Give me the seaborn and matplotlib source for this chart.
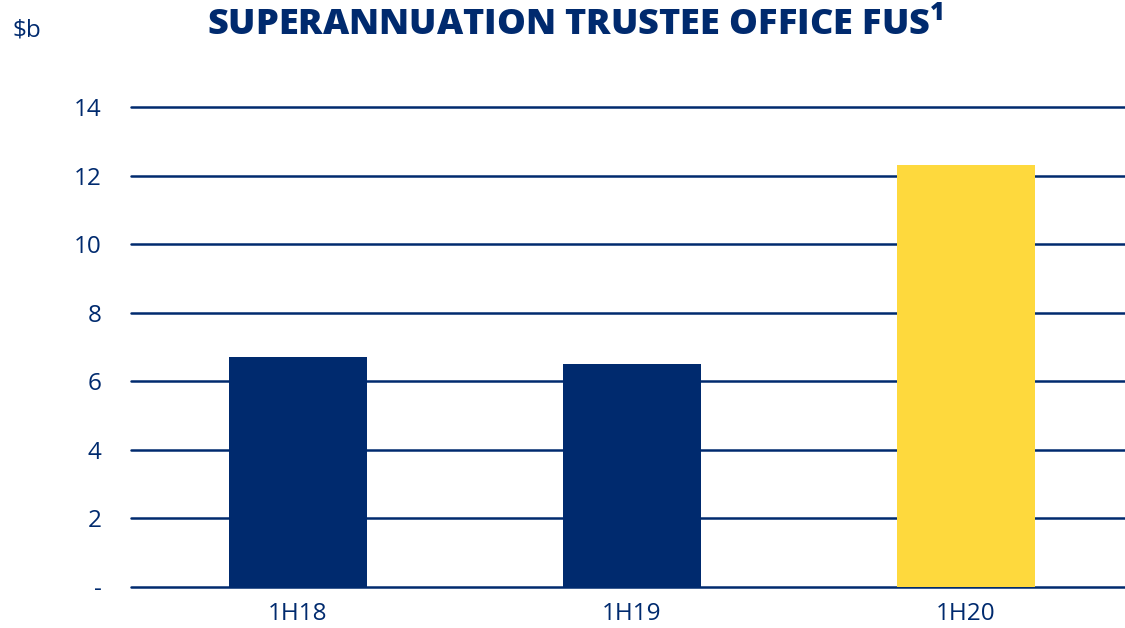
import matplotlib
matplotlib.use("Agg")
import matplotlib.pyplot as plt
import seaborn as sns
import pandas as pd

categories = ["1H18", "1H19", "1H20"]
values = [6.71, 6.50, 12.31]
bar_colors = ["#002A6E", "#002A6E", "#FED93D"]
yticks = [0, 2, 4, 6, 8, 10, 12, 14]
ytick_labels = ["-", "2", "4", "6", "8", "10", "12", "14"]

NAVY = "#002A6E"

sns.set_theme(style="white")
plt.rcParams["font.family"] = ["Open Sans", "DejaVu Sans"]

df = pd.DataFrame({"period": categories, "fus": values})

fig = plt.figure(figsize=(11.25, 6.28), dpi=100)
ax = fig.add_axes([131/1125, 1-587/628, 1-131/1125, (587-96.7)/628])

sns.barplot(data=df, x="period", y="fus", hue="period", palette=bar_colors,
            width=0.416, saturation=1, legend=False, ax=ax, zorder=3,
            linewidth=0)

ax.set_ylim(0, 14.3)
ax.set_xlim(-0.5, 2.476)
ax.set_yticks(yticks)
ax.set_yticklabels(ytick_labels)
for y in yticks:
    ax.axhline(y, color=NAVY, lw=1.8, zorder=1, clip_on=False)
ax.set_axisbelow(True)
for s in ax.spines.values():
    s.set_visible(False)
ax.tick_params(axis="both", length=0, colors=NAVY, labelsize=17.5)
ax.tick_params(axis="y", pad=21)
ax.tick_params(axis="x", pad=11)
ax.set_xlabel("")
ax.set_ylabel("")

fig.text(575/1125, 1-25/628, "SUPERANNUATION TRUSTEE OFFICE FUS$^{\\mathregular{1}}$",
         ha="center", va="center", color=NAVY, fontsize=26, fontweight="heavy")
fig.text(13/1125, 1-31/628, "$b", ha="left", va="center", color=NAVY, fontsize=17.5)

fig.savefig("out.png", dpi=100)
